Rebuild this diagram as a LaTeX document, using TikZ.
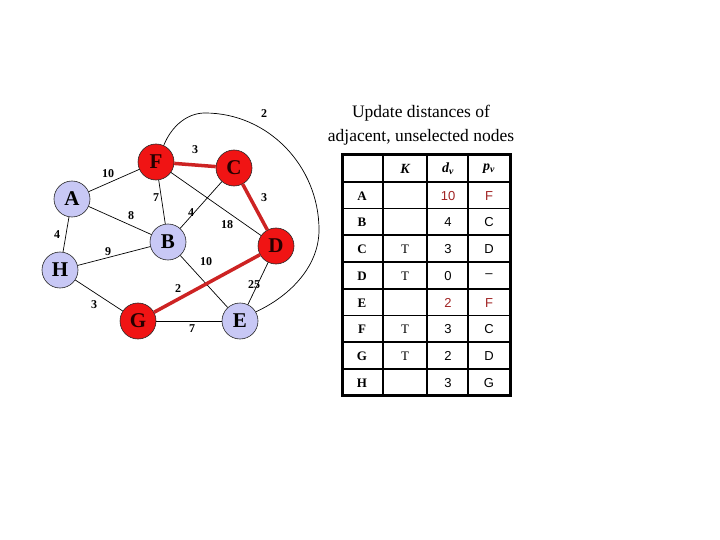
\documentclass[tikz,border=0pt]{standalone}
\usepackage{fontspec}
\setmainfont{Liberation Serif}
\newfontfamily\tabsans{Liberation Sans}
\usetikzlibrary{positioning}

\definecolor{vblue}{RGB}{200,200,245}
\definecolor{vred}{RGB}{240,20,20}
\definecolor{ered}{RGB}{205,35,35}
\definecolor{tred}{RGB}{160,35,35}

\tikzset{
	vertex/.style={circle,draw=black!85,line width=0.6pt,minimum size=36pt,inner sep=0pt,
		font=\fontsize{21}{21}\selectfont\bfseries},
	unsel/.style={vertex,fill=vblue},
	sel/.style={vertex,fill=vred,text=black!85!red},
	weight/.style={font=\fontsize{12}{12}\selectfont\bfseries,inner sep=1pt},
	plainedge/.style={draw=black,line width=0.7pt},
	treeedge/.style={draw=ered,line width=3.5pt},
	tabline/.style={line width=1.6pt},
	tabborder/.style={line width=3pt},
	rowlabel/.style={font=\fontsize{13}{13}\selectfont\bfseries},
	cellsans/.style={font=\tabsans\fontsize{13}{13}\selectfont},
	cellserif/.style={font=\fontsize{13}{13}\selectfont},
	header/.style={font=\fontsize{14}{14}\selectfont\bfseries\itshape}
}

\begin{document}
\begin{tikzpicture}[x=1pt,y=-1pt]
	\useasboundingbox (0,0) rectangle (720,540);
	% vertices
	\node[unsel] (nodeA) at (72,199) {A};
	\node[unsel] (nodeB) at (168,242) {B};
	\node[sel] (nodeC) at (234,168) {C};
	\node[sel] (nodeD) at (276,246) {D};
	\node[unsel] (nodeE) at (240,321) {E};
	\node[sel] (nodeF) at (156,162) {F};
	\node[sel] (nodeG) at (138,321) {G};
	\node[unsel] (nodeH) at (60,270) {H};
	% edges
	\path (nodeA) edge[plainedge] (nodeF);
	\path (nodeA) edge[plainedge] (nodeB);
	\path (nodeA) edge[plainedge] (nodeH);
	\path (nodeF) edge[plainedge] (nodeB);
	\path (nodeF) edge[plainedge] (nodeD);
	\path (nodeC) edge[plainedge] (nodeB);
	\path (nodeH) edge[plainedge] (nodeB);
	\path (nodeH) edge[plainedge] (nodeG);
	\path (nodeB) edge[plainedge] (nodeE);
	\path (nodeD) edge[plainedge] (nodeE);
	\path (nodeG) edge[plainedge] (nodeE);
	\draw[plainedge] (nodeF.65) .. controls (172,125) and (188,113) .. (205,113)
		.. controls (268,113) and (319,166) .. (319,230)
		.. controls (319,265) and (292,295) .. (nodeE.30);
	\path (nodeF) edge[treeedge] (nodeC);
	\path (nodeC) edge[treeedge] (nodeD);
	\path (nodeD) edge[treeedge] (nodeG);
	% weights
	\node[weight] (wAF) at (108,174) {10};
	\node[weight] (wFC) at (195,150) {3};
	\node[weight] (wFB) at (156,198) {7};
	\node[weight] (wCB) at (191,213) {4};
	\node[weight] (wCD) at (264,198) {3};
	\node[weight] (wAB) at (131,216) {8};
	\node[weight] (wFD) at (227,225) {18};
	\node[weight] (wAH) at (57,235) {4};
	\node[weight] (wHB) at (108,252) {9};
	\node[weight] (wBE) at (206,262) {10};
	\node[weight] (wDE) at (254,285) {25};
	\node[weight] (wDG) at (178,289) {2};
	\node[weight] (wHG) at (94,305) {3};
	\node[weight] (wGE) at (192,329) {7};
	\node[weight] (wFE) at (264,114) {2};
	% title
	\node[align=center,font=\fontsize{17.5}{24}\selectfont] (title) at (421,125)
		{Update distances of\\adjacent, unselected nodes};
	% table
	\foreach \i in {1,...,8}
		\draw[tabline] (342,155+26.75*\i) -- (510,155+26.75*\i);
	\foreach \x in {383,427,468}
		\draw[tabline] (\x,155) -- (\x,395);
	\draw[tabborder] (342,155) rectangle (510,395);
	\node[header] (headK) at (405,169) {K};
	\node[header] (headD) at (448,169) {d\textsubscript{v}};
	\node[header] (headP) at (489,169) {p\textsubscript{v}};
	\foreach \v/\k/\d/\p/\c [count=\r] in {A//10/F/tred, B//4/C/black, C/T/3/D/black,
			D/T/0/\textendash/black, E//2/F/tred, F/T/3/C/black, G/T/2/D/black, H//3/G/black} {
		\node[rowlabel] (row\v) at (362,169+26.75*\r) {\v};
		\node[cellserif] (known\v) at (405,169+26.75*\r) {\k};
		\node[cellsans,text=\c] (dist\v) at (448,169+26.75*\r) {\d};
		\node[cellsans,text=\c] (pred\v) at (489,169+26.75*\r) {\p};
	}
\end{tikzpicture}
\end{document}
